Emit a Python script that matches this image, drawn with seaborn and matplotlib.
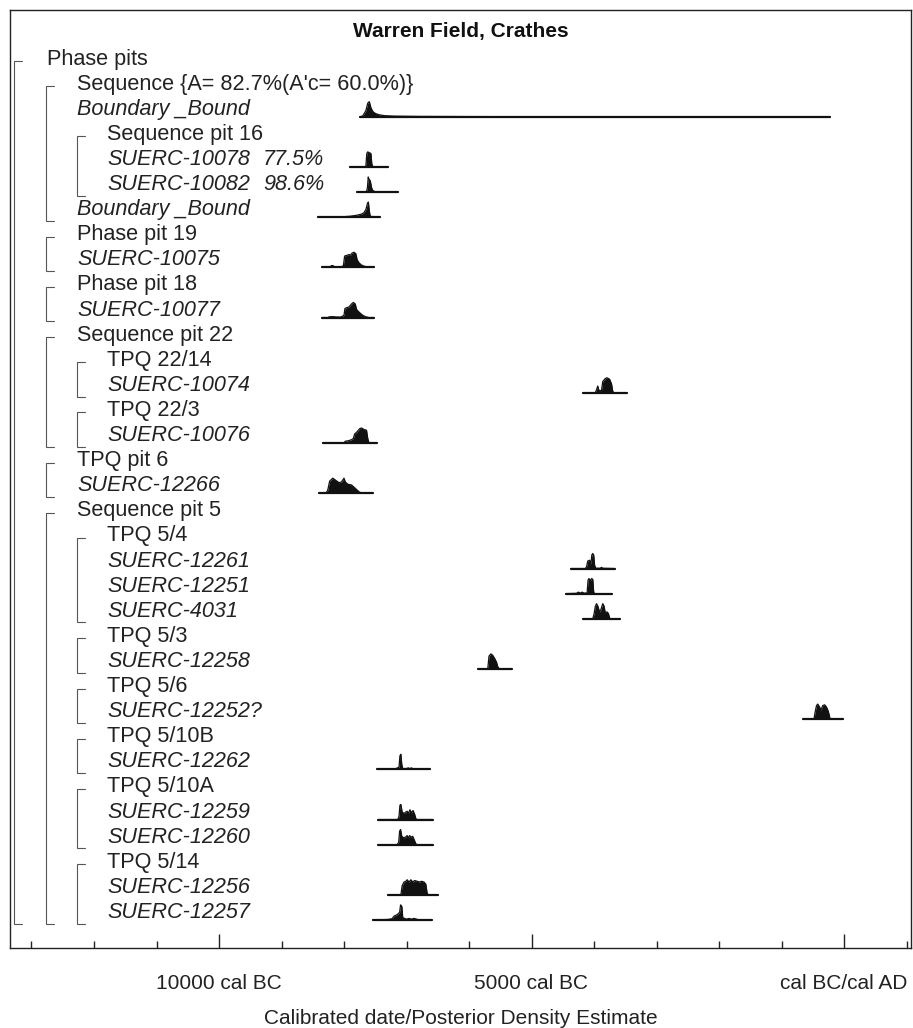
import numpy as np
import matplotlib
matplotlib.use("Agg")
import matplotlib.pyplot as plt
import seaborn as sns
import pandas as pd
from matplotlib.transforms import blended_transform_factory

# ---------------- data ----------------
row_labels = [
    "Phase pits", "Sequence {A= 82.7%(A'c= 60.0%)}", "Boundary _Bound", "Sequence pit 16",
    "SUERC-10078", "SUERC-10082", "Boundary _Bound", "Phase pit 19", "SUERC-10075",
    "Phase pit 18", "SUERC-10077", "Sequence pit 22", "TPQ 22/14", "SUERC-10074",
    "TPQ 22/3", "SUERC-10076", "TPQ pit 6", "SUERC-12266", "Sequence pit 5",
    "TPQ 5/4", "SUERC-12261", "SUERC-12251", "SUERC-4031", "TPQ 5/3", "SUERC-12258",
    "TPQ 5/6", "SUERC-12252?", "TPQ 5/10B", "SUERC-12262", "TPQ 5/10A",
    "SUERC-12259", "SUERC-12260", "TPQ 5/14", "SUERC-12256", "SUERC-12257",
]
row_level = [1, 2, 2, 3, 3, 3, 2, 2, 2, 2, 2, 2, 3, 3, 3, 3, 2, 2, 2,
             3, 3, 3, 3, 3, 3, 3, 3, 3, 3, 3, 3, 3, 3, 3, 3]
row_italic = [False, False, True, False, True, True, True, False, True, False, True,
              False, False, True, False, True, False, True, False, False, True, True,
              True, False, True, False, True, False, True, False, True, True, False,
              True, True]
agreement_rows = [4, 5]
agreement_text = ["77.5%", "98.6%"]

# brackets: (level, first row, last row)
bracket_level = [1, 2, 3, 2, 2, 2, 3, 3, 2, 2, 3, 3, 3, 3, 3, 3]
bracket_start = [0, 1, 3, 7, 9, 11, 12, 14, 16, 18, 19, 23, 25, 27, 29, 32]
bracket_end = [34, 6, 5, 8, 10, 15, 13, 15, 17, 34, 22, 24, 26, 28, 31, 34]

# posterior density estimates (calendar year, negative = BC ; relative density)
bound_top_yr = [-7744, -7700, -7650, -7620, -7595, -7570, -7540, -7500, -7440, -7350, -7200, -6800, -6000, -5000, -224]
bound_top_d = [0, 0.05, 0.4, 0.9, 1.0, 0.6, 0.35, 0.22, 0.13, 0.07, 0.04, 0.02, 0.01, 0.004, 0]
s10078_yr = [-7904, -7680, -7650, -7635, -7620, -7600, -7570, -7555, -7540, -7296]
s10078_d = [0, 0, 0.05, 0.9, 1.0, 0.95, 0.9, 0.2, 0.02, 0]
s10082_yr = [-7792, -7640, -7625, -7612, -7600, -7580, -7560, -7540, -7500, -7136]
s10082_d = [0, 0, 0.3, 1.0, 0.85, 0.75, 0.3, 0.1, 0.02, 0]
bound_bot_yr = [-8416, -8200, -8000, -7900, -7800, -7720, -7680, -7650, -7625, -7610, -7595, -7580, -7424]
bound_bot_d = [0, 0.01, 0.03, 0.06, 0.12, 0.2, 0.3, 0.5, 0.9, 1.0, 0.4, 0.05, 0]
s10075_yr = [-8352, -8230, -8200, -8170, -8150, -8050, -8010, -7990, -7950, -7920, -7900, -7870, -7840, -7810, -7790, -7760, -7720, -7680, -7640, -7600, -7520]
s10075_d = [0, 0, 0.12, 0.1, 0.02, 0.02, 0.1, 0.75, 0.8, 0.85, 0.8, 0.95, 1.0, 0.9, 0.5, 0.3, 0.15, 0.08, 0.03, 0, 0]
s10077_yr = [-8352, -8260, -8230, -8180, -8130, -8050, -8000, -7985, -7960, -7920, -7880, -7850, -7820, -7800, -7770, -7730, -7690, -7650, -7600, -7520]
s10077_d = [0, 0, 0.05, 0.06, 0.04, 0.03, 0.15, 0.6, 0.65, 0.7, 0.9, 1.0, 0.9, 0.55, 0.4, 0.25, 0.12, 0.05, 0, 0]
s10074_yr = [-4176, -3980, -3960, -3940, -3920, -3880, -3860, -3820, -3790, -3750, -3720, -3700, -3680, -3472]
s10074_d = [0, 0, 0.2, 0.45, 0.15, 0.15, 0.75, 0.95, 1.0, 0.9, 0.6, 0.1, 0, 0]
s10076_yr = [-8341, -8000, -7980, -7930, -7880, -7850, -7830, -7790, -7750, -7720, -7680, -7640, -7620, -7600, -7477]
s10076_d = [0, 0, 0.12, 0.15, 0.22, 0.3, 0.6, 0.75, 0.95, 1.0, 0.9, 0.85, 0.3, 0, 0]
s12266_yr = [-8400, -8290, -8260, -8230, -8180, -8130, -8080, -8040, -8000, -7980, -7940, -7880, -7840, -7800, -7760, -7720, -7541]
s12266_d = [0, 0, 0.2, 0.8, 1.0, 0.85, 0.7, 0.75, 1.0, 0.75, 0.6, 0.55, 0.4, 0.25, 0.1, 0, 0]
s12261_yr = [-4368, -4140, -4120, -4100, -4070, -4050, -4035, -4020, -4005, -3990, -3970, -3900, -3880, -3860, -3664]
s12261_d = [0, 0, 0.1, 0.5, 0.55, 0.3, 0.9, 1.0, 0.9, 0.2, 0.02, 0.02, 0.08, 0.02, 0]
s12251_yr = [-4448, -4280, -4250, -4220, -4190, -4160, -4110, -4095, -4080, -4060, -4040, -4020, -4005, -3990, -3717]
s12251_d = [0, 0.02, 0.1, 0.03, 0.1, 0.03, 0.05, 0.9, 1.0, 0.85, 1.0, 0.95, 0.1, 0, 0]
s4031_yr = [-4171, -4020, -4000, -3980, -3960, -3940, -3910, -3890, -3860, -3840, -3820, -3790, -3770, -3750, -3740, -3584]
s4031_d = [0, 0, 0.3, 0.8, 1.0, 0.85, 0.45, 0.6, 1.0, 0.85, 0.4, 0.45, 0.35, 0.05, 0, 0]
s12258_yr = [-5851, -5700, -5680, -5650, -5620, -5590, -5560, -5540, -5520, -5317]
s12258_d = [0, 0, 0.85, 1.0, 0.9, 0.7, 0.45, 0.15, 0.02, 0]
s12252_yr = [-651, -480, -465, -440, -420, -390, -370, -340, -310, -280, -250, -225, -200, -11]
s12252_d = [0, 0, 0.4, 0.9, 1.0, 0.8, 0.6, 0.9, 0.95, 0.8, 0.5, 0.05, 0, 0]
s12262_yr = [-7467, -7200, -7150, -7120, -7105, -7090, -7075, -7060, -7000, -6970, -6950, -6920, -6900, -6850, -6624]
s12262_d = [0, 0.02, 0.08, 0.15, 0.9, 1.0, 0.3, 0.05, 0.05, 0.1, 0.04, 0.1, 0.03, 0, 0]
s12259_yr = [-7451, -7140, -7120, -7105, -7090, -7070, -7040, -7010, -6990, -6970, -6945, -6920, -6895, -6870, -6850, -6830, -6581]
s12259_d = [0, 0, 0.2, 0.95, 1.0, 0.5, 0.4, 0.5, 0.55, 0.4, 0.65, 0.45, 0.6, 0.35, 0.05, 0, 0]
s12260_yr = [-7451, -7150, -7125, -7110, -7095, -7075, -7045, -7015, -6990, -6970, -6950, -6925, -6900, -6875, -6850, -6830, -6581]
s12260_d = [0, 0, 0.15, 0.9, 1.0, 0.55, 0.45, 0.5, 0.6, 0.45, 0.6, 0.5, 0.55, 0.3, 0.05, 0, 0]
s12256_yr = [-7296, -7090, -7070, -7040, -7010, -6990, -6960, -6930, -6900, -6870, -6830, -6790, -6760, -6720, -6690, -6670, -6650, -6496]
s12256_d = [0, 0, 0.6, 0.85, 0.9, 1.0, 0.85, 1.0, 0.85, 0.95, 0.9, 0.85, 0.9, 0.85, 0.7, 0.1, 0, 0]
s12257_yr = [-7541, -7300, -7230, -7200, -7150, -7110, -7095, -7075, -7060, -7000, -6960, -6920, -6880, -6840, -6800, -6595]
s12257_d = [0, 0.03, 0.08, 0.25, 0.35, 0.5, 1.0, 0.9, 0.15, 0.05, 0.1, 0.05, 0.1, 0.05, 0, 0]

dist_rows = [2, 4, 5, 6, 8, 10, 13, 15, 17, 20, 21, 22, 24, 26, 28, 30, 31, 33, 34]
dist_years = [bound_top_yr, s10078_yr, s10082_yr, bound_bot_yr, s10075_yr, s10077_yr,
              s10074_yr, s10076_yr, s12266_yr, s12261_yr, s12251_yr, s4031_yr,
              s12258_yr, s12252_yr, s12262_yr, s12259_yr, s12260_yr, s12256_yr, s12257_yr]
dist_dens = [bound_top_d, s10078_d, s10082_d, bound_bot_d, s10075_d, s10077_d,
             s10074_d, s10076_d, s12266_d, s12261_d, s12251_d, s4031_d,
             s12258_d, s12252_d, s12262_d, s12259_d, s12260_d, s12256_d, s12257_d]

major_ticks = [-10000, -5000, 0]
major_labels = ["10000 cal BC", "5000 cal BC", "cal BC/cal AD"]
minor_ticks = list(range(-13000, 1001, 1000))

# ---------------- layout ----------------
sns.set_theme(style="white")
plt.rcParams['font.family'] = ['Liberation Sans', 'DejaVu Sans']
FS = 15
FS_ROW = 15.6

W, H = 913, 1028
fig = plt.figure(figsize=(W / 100, H / 100), dpi=100)
L, R, T, B = 10, 911, 10, 948
ax = fig.add_axes([L / W, 1 - B / H, (R - L) / W, (B - T) / H])
ax.set_xlim(-13344, 1072)
row0_px, row_h = 59, 25.1
ax.set_ylim((B - row0_px) / row_h, (T - row0_px) / row_h)

for s in ax.spines.values():
    s.set_color("#222222")
    s.set_linewidth(1.0)

ax.set_yticks([])
ax.set_xticks(major_ticks)
ax.set_xticklabels(major_labels, fontsize=FS, color="#222222")
ax.set_xticks(minor_ticks, minor=True)
ax.tick_params(axis="x", which="both", bottom=True, top=False)
ax.tick_params(axis="x", which="major", direction="in", length=10, width=1.0,
               color="#222222", pad=19)
ax.tick_params(axis="x", which="minor", direction="in", length=5, width=1.0,
               color="#222222")
ax.set_xlabel("Calibrated date/Posterior Density Estimate", fontsize=FS,
              color="#222222", labelpad=11)

trans = blended_transform_factory(ax.transAxes, ax.transData)

def px2ax(px):
    return (px - L) / (R - L)

# title
ax.text(0.5, (32 - row0_px) / row_h, "Warren Field, Crathes", transform=trans,
        ha="center", va="center", fontsize=FS, fontweight="bold", color="#111111")

# row labels
for i, (lab, lev, it) in enumerate(zip(row_labels, row_level, row_italic)):
    ax.text(px2ax(47 + 30 * (lev - 1)), i, lab, transform=trans, ha="left",
            va="center", fontsize=FS_ROW, style="italic" if it else "normal",
            color="#222222")
for r, t in zip(agreement_rows, agreement_text):
    ax.text(px2ax(263), r, t, transform=trans, ha="left", va="center",
            fontsize=FS_ROW, style="italic", color="#222222")

# brackets
for lev, a, b in zip(bracket_level, bracket_start, bracket_end):
    xb = px2ax(14 + 31.5 * (lev - 1))
    xh = xb + 8 / (R - L)
    ya, yb = a + 0.08, b + 0.45
    ax.plot([xh, xb, xb, xh], [ya, ya, yb, yb], transform=trans,
            color="#555555", lw=0.8, solid_joinstyle="miter")

# distributions
base_off, amp = 0.30, 0.6
for r, yrs, dens in zip(dist_rows, dist_years, dist_dens):
    yrs = np.asarray(yrs, float)
    d = np.asarray(dens, float)
    df = pd.DataFrame({"year": yrs, "y": r + base_off - amp * d})
    ax.fill_between(yrs, r + base_off, df["y"], color="#111111", lw=0)
    sns.lineplot(data=df, x="year", y="y", ax=ax, color="#111111", lw=0.9,
                 estimator=None, sort=False)
    sns.lineplot(x=[yrs[0], yrs[-1]], y=[r + base_off, r + base_off], ax=ax,
                 color="#111111", lw=1.6, estimator=None)

ax.set_ylabel("")
fig.savefig("out.png", dpi=100)
